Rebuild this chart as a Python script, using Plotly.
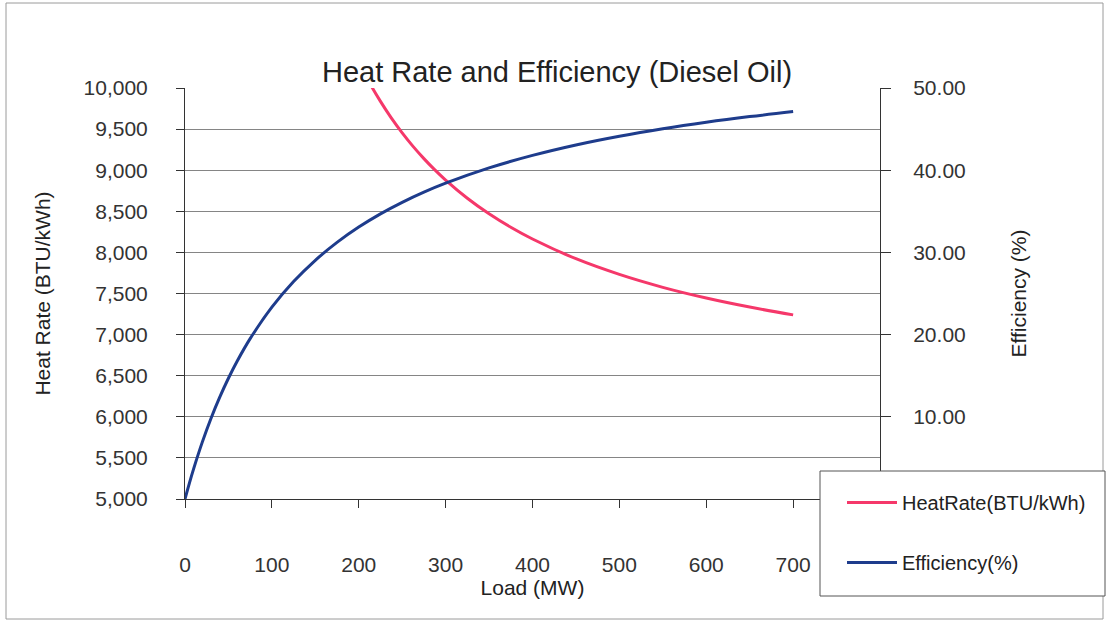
import plotly.graph_objects as go

# Load points (MW)
load_eff = [0, 5, 10, 20, 30, 40, 50, 60, 75, 100, 125, 150, 175, 200, 225, 250,
            275, 300, 350, 400, 450, 500, 550, 600, 650, 700]
efficiency = [0.0, 1.91, 3.70, 6.95, 9.83, 12.39, 14.69, 16.76, 19.51, 23.34, 26.45,
              29.04, 31.22, 33.08, 34.69, 36.09, 37.33, 38.42, 40.28, 41.80, 43.07,
              44.13, 45.04, 45.83, 46.52, 47.13]

load_hr = [200, 212, 225, 237, 250, 262, 275, 287, 300, 325, 350, 375, 400, 450,
           500, 550, 600, 650, 700]
heat_rate = [10315, 10070, 9837, 9643, 9454, 9296, 9141, 9010, 8880, 8659, 8470,
             8306, 8163, 7923, 7732, 7575, 7445, 7335, 7240]

x_ticks = [0, 100, 200, 300, 400, 500, 600, 700]
eff_ticks = [10, 20, 30, 40, 50]

W, H = 1106, 624
L, R, T, B = 185, 880, 88, 499   # plot area in pixels


def px(x):
    return (x - L) / (R - L)


def py(y):
    return (B - y) / (B - T)


FONT = "Liberation Sans, Arial, sans-serif"
PINK = "#F5386A"
NAVY = "#1E3C8C"

fig = go.Figure()
fig.add_trace(go.Scatter(
    x=load_hr, y=heat_rate, mode="lines", name="HeatRate(BTU/kWh)",
    line=dict(color=PINK, width=3, shape="spline", smoothing=1.0),
    legendgroup="a", yaxis="y"))
fig.add_trace(go.Scatter(
    x=load_eff, y=efficiency, mode="lines", name="Efficiency(%)",
    line=dict(color=NAVY, width=3, shape="spline", smoothing=1.0),
    legendgroup="b", yaxis="y2"))

fig.update_layout(
    width=W, height=H,
    margin=dict(l=L, r=W - R, t=T, b=H - B, pad=0),
    paper_bgcolor="white", plot_bgcolor="white",
    font=dict(family=FONT, size=21, color="#333333"),
    title=dict(text="Heat Rate and Efficiency (Diesel Oil)",
               font=dict(size=29, color="#222222"),
               x=px(557), xref="paper", xanchor="center",
               y=1 - 72 / H, yanchor="middle"),
    xaxis=dict(range=[0, 800], tickvals=x_ticks, ticks="outside", ticklen=8,
               tickcolor="#333333", showline=True, linecolor="#333333",
               showgrid=False, zeroline=False, ticklabelstandoff=39,
               title=dict(text="Load (MW)", standoff=0,
                          font=dict(size=21, color="#222222"))),
    yaxis=dict(range=[5000, 10000], dtick=500, tickformat=",d", ticks="outside",
               ticklen=8, tickcolor="#333333", showline=True,
               linecolor="#333333", showgrid=True, gridcolor="#858585",
               gridwidth=1, zeroline=False, ticklabelstandoff=24,
               title=dict(text="Heat Rate (BTU/kWh)", standoff=27,
                          font=dict(size=21, color="#222222"))),
    yaxis2=dict(range=[0, 50], tickvals=eff_ticks, tickformat=".2f",
                overlaying="y", side="right", ticks="outside", ticklen=10,
                tickcolor="#333333", showline=True, linecolor="#333333",
                showgrid=False, zeroline=False, ticklabelstandoff=18,
                title=dict(text="Efficiency (%)", standoff=46,
                           font=dict(size=21, color="#222222"))),
    legend=dict(x=px(842), y=py(483), xanchor="left", yanchor="top",
                bgcolor="rgba(0,0,0,0)", borderwidth=0,
                font=dict(size=20, color="#222222"), tracegroupgap=31,
                itemwidth=50),
    shapes=[
        # legend frame, drawn over the axis lines it overlaps
        dict(type="rect", xref="paper", yref="paper",
             x0=px(820), x1=px(1105), y0=py(596), y1=py(471),
             line=dict(color="#555555", width=1), fillcolor="white",
             layer="above"),
        # chart-area frame
        dict(type="rect", xref="paper", yref="paper",
             x0=px(6), x1=px(1103), y0=py(619), y1=py(3),
             line=dict(color="#9a9a9a", width=1), layer="below"),
    ],
)

fig.write_html("out.html")
